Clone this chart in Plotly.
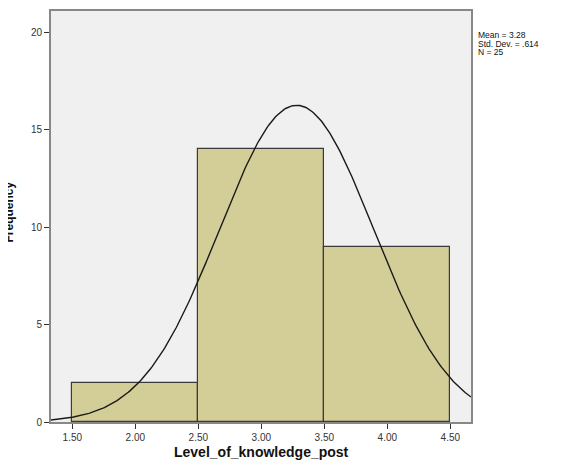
import numpy as np
import plotly.graph_objects as go

bin_centers = [2.0, 3.0, 4.0]
frequencies = [2, 14, 9]
mean_val = 3.28
std_val = 0.614
n_val = 25
x_ticks = [1.5, 2.0, 2.5, 3.0, 3.5, 4.0, 4.5]
x_tick_labels = ["1.50", "2.00", "2.50", "3.00", "3.50", "4.00", "4.50"]
y_ticks = [0, 5, 10, 15, 20]
stat_lines = ["Mean = 3.28", "Std. Dev. = .614", "N = 25"]

xs = np.linspace(1.331, 4.664, 300)
ys = n_val * 1.0 / (std_val * np.sqrt(2 * np.pi)) * np.exp(-0.5 * ((xs - mean_val) / std_val) ** 2)

fig = go.Figure()
fig.add_trace(go.Bar(x=bin_centers, y=frequencies, width=1.0,
                     marker=dict(color="#d3ce97", line=dict(color="#3a3a3a", width=1.2)),
                     showlegend=False, hoverinfo="skip"))
fig.add_trace(go.Scatter(x=xs, y=ys, mode="lines", line=dict(color="#1a1a1a", width=1.4),
                         showlegend=False, hoverinfo="skip"))

annotations = [
    dict(text="<b>Level_of_knowledge_post</b>", xref="paper", yref="paper", x=0.5, y=0,
         yshift=-30, xanchor="center", yanchor="middle", showarrow=False,
         font=dict(size=14, color="#111", family="Liberation Sans, Arial, sans-serif")),
    dict(text="<b>Frequency</b>", xref="paper", yref="paper", x=0, y=0.5, xshift=-43, yshift=4,
         textangle=-90, xanchor="center", yanchor="middle", showarrow=False,
         font=dict(size=12, color="#111")),
]
for i, line in enumerate(stat_lines):
    annotations.append(dict(text=line, xref="paper", yref="paper", x=1, y=1, xshift=6,
                            yshift=-18 - 8.5 * i, xanchor="left", yanchor="top", align="left",
                            borderpad=0, showarrow=False, font=dict(size=8.5, color="#111")))

fig.update_layout(
    width=561, height=456,
    margin=dict(l=43, r=98, t=1, b=42),
    paper_bgcolor="white", plot_bgcolor="#f0f0f0",
    font=dict(family="Arial, Liberation Sans, sans-serif", color="#222"),
    bargap=0,
    xaxis=dict(range=[1.331, 4.664], tickvals=x_ticks, ticktext=x_tick_labels,
               ticks="outside", ticklen=5, tickcolor="#333", tickfont=dict(size=10, color="#333"),
               showgrid=False, zeroline=False, showline=True, linecolor="#888", linewidth=2, mirror=True),
    yaxis=dict(range=[0, 21.08], tickvals=y_ticks, ticks="outside", ticklen=5, tickcolor="#333",
               tickfont=dict(size=10, color="#333"),
               showgrid=False, zeroline=False, showline=True, linecolor="#888", linewidth=2, mirror=True),
    annotations=annotations,
)
fig.write_html("out.html")
